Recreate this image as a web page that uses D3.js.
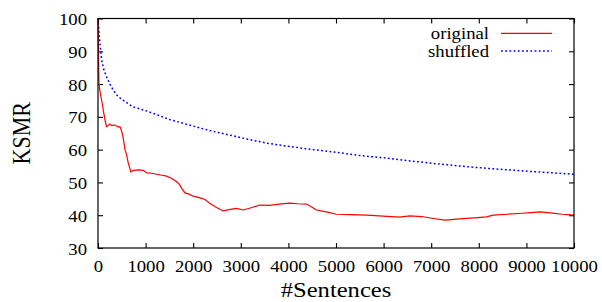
<!DOCTYPE html>
<html><head><meta charset="utf-8">
<script src="https://cdn.jsdelivr.net/npm/d3@7"></script>
<style>
body{margin:0;background:#fff;}
svg text{font-family:"Liberation Serif","Times New Roman",Times,serif !important;fill:#000;}
</style></head>
<body><svg id="c" width="602" height="302"></svg>
<script>
const origX = [0,10,20,40,63,90,112,147,180,217,250,288,350,420,470,500,530,567,600,637,693,742,850,952,1023,1130,1233,1340,1443,1550,1653,1710,1758,1828,1900,2002,2143,2250,2353,2500,2630,2780,2910,3050,3200,3400,3600,3800,4030,4200,4380,4480,4590,4800,5010,5300,5650,5990,6340,6550,6800,7050,7290,7600,7900,8160,8300,8600,8900,9100,9290,9500,9750,10000];
const origY = [100,90,80,78,76,74,72,69,67,67.4,67.8,67.4,67.5,67,66.8,65.4,63.5,60,58.5,55.8,53.2,53.7,53.8,53.7,52.9,52.8,52.5,52.2,51.9,51.2,50.2,49.4,48.2,46.8,46.5,45.8,45.3,44.8,43.6,42.3,41.3,41.8,42.1,41.6,42.2,43.1,43.0,43.4,43.7,43.5,43.4,42.6,41.6,41.0,40.3,40.2,40.0,39.7,39.4,39.8,39.6,39.0,38.5,38.9,39.2,39.5,40.0,40.3,40.6,40.8,41.0,40.7,40.3,40.0];
const shufX = [0,20,42,77,120,182,250,322,420,532,742,1023,1267,1500,1800,2143,2500,2842,3200,3544,4000,4524,5000,5500,6000,6344,7044,7745,8445,9145,10000];
const shufY = [100,96,92.3,87.2,84.5,82.1,80,78.1,76.2,75,73,71.8,70.5,69.2,68,66.6,65.3,64.2,63.0,62,61,60,59.2,58.2,57.5,56.9,55.8,54.8,54,53.3,52.5];
const xTicks = [0,1000,2000,3000,4000,5000,6000,7000,8000,9000,10000];
const yTicks = [30,40,50,60,70,80,90,100];
const seriesNames = ["original","shuffled"];
const xTitle = "#Sentences", yTitle = "KSMR";

const L=98, R=574, T=18.5, B=248, SX=1.17;
const svg = d3.select("#c");
const x = d3.scaleLinear().domain([0,10000]).range([L,R]);
const y = d3.scaleLinear().domain([30,100]).range([B,T]);

function styleAxis(g){ g.attr("font-family",null); g.select(".domain").remove(); g.selectAll("line").attr("stroke","#000").attr("stroke-width",1.1); }

svg.append("g").attr("transform",`translate(0,${B})`)
  .call(d3.axisBottom(x).tickValues(xTicks).tickSize(-5).tickFormat(d3.format("d")))
  .call(styleAxis)
  .call(g=>g.selectAll("text").attr("x",0).attr("y",0).attr("dy",null)
     .attr("transform",`translate(0,24) scale(${SX},1)`).attr("font-size",16)
     .attr("text-anchor","middle"));
svg.append("g").attr("transform",`translate(0,${T})`)
  .call(d3.axisTop(x).tickValues(xTicks).tickSize(-5).tickFormat(""))
  .call(styleAxis);
svg.append("g").attr("transform",`translate(${L},0)`)
  .call(d3.axisLeft(y).tickValues(yTicks).tickSize(-5).tickFormat(d3.format("d")))
  .call(styleAxis)
  .call(g=>g.selectAll("text").attr("x",0).attr("y",0).attr("dy",null)
     .attr("transform",`translate(-11,6) scale(${SX},1)`).attr("font-size",16)
     .attr("text-anchor","end"));
svg.append("g").attr("transform",`translate(${R},0)`)
  .call(d3.axisRight(y).tickValues(yTicks).tickSize(-5).tickFormat(""))
  .call(styleAxis);

const line = d3.line().x(d=>x(d[0])).y(d=>y(d[1]));
svg.append("path").datum(shufX.map((v,i)=>[v,shufY[i]]))
  .attr("d",line).attr("fill","none").attr("stroke","#0000ff").attr("stroke-width",1.5).attr("stroke-dasharray","1.8,2.4");
svg.append("path").datum(origX.map((v,i)=>[v,origY[i]]))
  .attr("d",line).attr("fill","none").attr("stroke","#ff0000").attr("stroke-width",1.2);

svg.append("rect").attr("x",L).attr("y",T).attr("width",R-L).attr("height",B-T)
  .attr("fill","none").attr("stroke","#000").attr("stroke-width",1.2);

// legend
const leg = [{n:seriesNames[0],c:"#ff0000",d:null,y:33.3},{n:seriesNames[1],c:"#0000ff",d:"1.8,2.4",y:51}];
leg.forEach(e=>{
  svg.append("text").attr("transform",`translate(489,${e.y+6}) scale(${SX},1)`)
    .attr("text-anchor","end").attr("font-size",16).text(e.n);
  svg.append("line").attr("x1",501).attr("x2",552).attr("y1",e.y).attr("y2",e.y)
    .attr("stroke",e.c).attr("stroke-width",e.d?1.5:1.2).attr("stroke-dasharray",e.d);
});

svg.append("text").attr("transform",`translate(${(L+R)/2},297) scale(${SX},1)`)
  .attr("text-anchor","middle").attr("font-size",21).text(xTitle);
svg.append("text").attr("transform",`translate(30,${(T+B)/2}) rotate(-90) scale(1,${SX})`)
  .attr("text-anchor","middle").attr("font-size",22).text(yTitle);
</script></body></html>
